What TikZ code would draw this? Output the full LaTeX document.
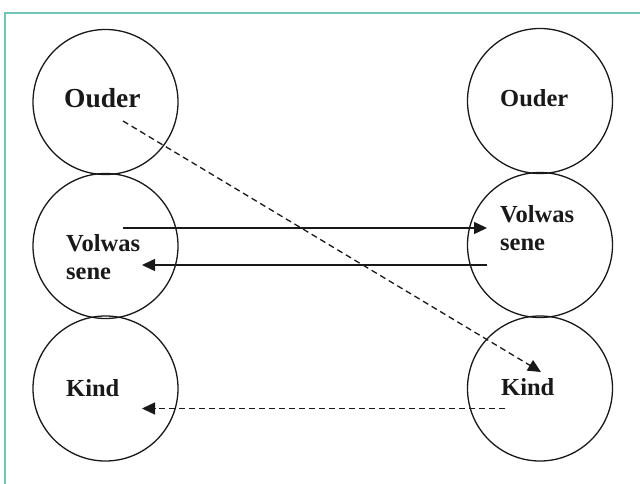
\documentclass[tikz,border=0pt]{standalone}
\usepackage{fontspec}
\setmainfont{Liberation Serif}
\usetikzlibrary{arrows.meta}
\definecolor{frameteal}{RGB}{112,198,180}
\definecolor{ink}{RGB}{25,25,25}
\begin{document}
\begin{tikzpicture}[x=1pt,y=-1pt,
  ring/.style={draw=ink,line width=1.3pt,circle,minimum size=145pt,inner sep=0pt},
  lbl/.style={font=\fontsize{24.5}{27.5}\selectfont\bfseries,text=ink,inner sep=0pt,anchor=base west,align=left},
  solidarrow/.style={draw=ink,line width=1.5pt,-{Triangle[length=13pt,width=12pt]}},
  dasharrow/.style={draw=ink,line width=1.3pt,dash pattern=on 6pt off 4pt,-{Triangle[length=13pt,width=12pt]}}]
\useasboundingbox (0,0) rectangle (640,484);
\fill[white] (0,0) rectangle (640,484);
\draw[frameteal,line width=2pt] (5,490) -- (5,13) -- (645,13);
% circles
\node[ring] (LO) at (105.5,102) {};
\node[ring] (LV) at (105.5,246) {};
\node[ring] (LK) at (105.5,388.5) {};
\node[ring] (RO) at (540,101) {};
\node[ring] (RV) at (540,245) {};
\node[ring] (RK) at (540,388.5) {};
% labels
\node[lbl,font=\fontsize{27.5}{27.5}\selectfont\bfseries] (tLO) at (64,108) {Ouder};
\node[lbl] (tRO) at (500,107) {Ouder};
\node[lbl] (tLV) at (66,279) {Volwas\\sene};
\node[lbl] (tRV) at (500,250) {Volwas\\sene};
\node[lbl] (tLK) at (66,396) {Kind};
\node[lbl] (tRK) at (501,395) {Kind};
% connector end points
\coordinate (a1s) at (123,228);
\coordinate (a1e) at (487,228);
\coordinate (a2s) at (487,265);
\coordinate (a2e) at (142,265);
\coordinate (a3s) at (123,121);
\coordinate (a3e) at (541,372);
\coordinate (a4s) at (505,408.5);
\coordinate (a4e) at (142,408.5);
\draw[solidarrow] (a1s) -- (a1e);
\draw[solidarrow] (a2s) -- (a2e);
\draw[dasharrow] (a3s) -- (a3e);
\draw[dasharrow] (a4s) -- (a4e);
\end{tikzpicture}
\end{document}
